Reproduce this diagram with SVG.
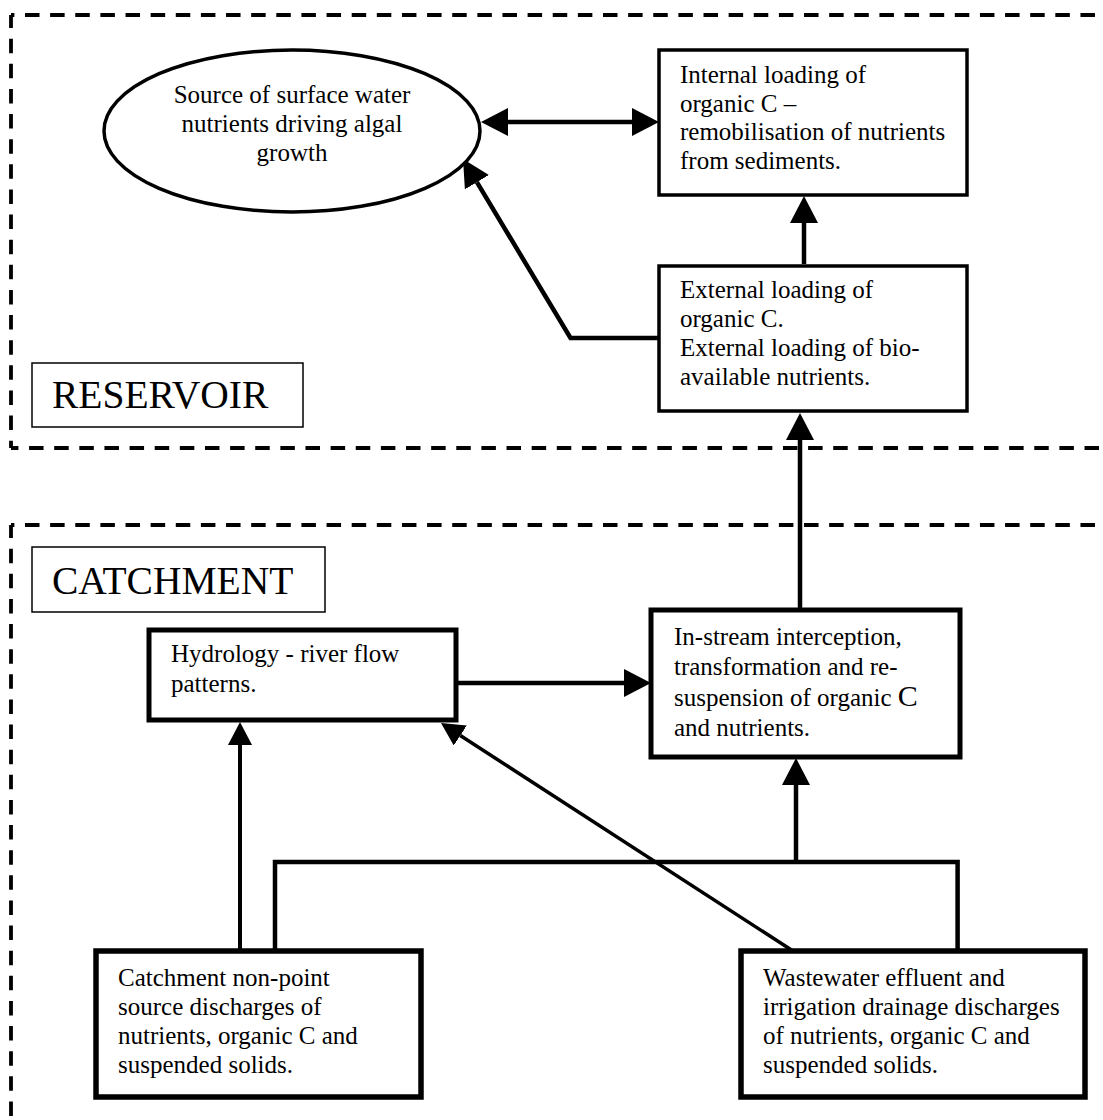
<svg xmlns="http://www.w3.org/2000/svg" width="1103" height="1120" viewBox="0 0 1103 1120">
  <style>
    text { font-family: "Liberation Serif", "Times New Roman", serif; fill: #000; }
    .t { font-size: 25px; }
    .big { font-size: 39.5px; }
    .zone { fill: none; stroke: #000; stroke-width: 3.8; stroke-dasharray: 14.5 10.63; }
    .box { fill: #fff; stroke: #000; }
    .label { fill: #fff; stroke: #000; stroke-width: 1.5; }
    .wire { fill: none; stroke: #000; stroke-linejoin: miter; }
  </style>
  <defs>
    <marker id="head" markerUnits="userSpaceOnUse" viewBox="0 0 27 28" markerWidth="27" markerHeight="28" refX="0" refY="14" orient="auto-start-reverse">
      <path d="M0,0 L27,14 L0,28 z" fill="#000"/>
    </marker>
    <marker id="headThin" markerUnits="userSpaceOnUse" viewBox="0 0 23 24" markerWidth="23" markerHeight="24" refX="0" refY="12" orient="auto">
      <path d="M0,0 L23,12 L0,24 z" fill="#000"/>
    </marker>
  </defs>

  <rect width="1103" height="1120" fill="#fff"/>

  <!-- dashed zone outlines (open to the right / bottom) -->
  <g id="zone-reservoir">
    <path class="zone" d="M11,15 H1120" stroke-dashoffset="11.13"/>
    <path class="zone" d="M11,15 V448" stroke-dashoffset="1.5"/>
    <path class="zone" d="M11,448 H1120" stroke-dashoffset="7.07"/>
  </g>
  <g id="zone-catchment">
    <path class="zone" d="M11,525 H1120" stroke-dashoffset="11.13"/>
    <path class="zone" d="M11,525 V1130" stroke-dashoffset="1.5"/>
  </g>

  <!-- connectors -->
  <g id="connectors">
    <path class="wire" stroke-width="4.5" d="M508,122 H632" marker-start="url(#head)" marker-end="url(#head)"/>
    <path class="wire" stroke-width="4.5" d="M804,264 V223" marker-end="url(#head)"/>
    <path class="wire" stroke-width="4.5" d="M659,338 H570.5 L476.9,182.2" marker-end="url(#head)"/>
    <path class="wire" stroke-width="4.5" d="M800,610 V440" marker-end="url(#head)"/>
    <path class="wire" stroke-width="4.5" d="M456,683 H624" marker-end="url(#head)"/>
    <path class="wire" stroke-width="4.5" d="M275,951 V862 H957.6 V951"/>
    <path class="wire" stroke-width="4.5" d="M796,862 V785" marker-end="url(#head)"/>
    <path class="wire" stroke-width="4" d="M240,951 V745" marker-end="url(#headThin)"/>
    <path class="wire" stroke-width="3.5" d="M793,951 L460.3,735.5" marker-end="url(#headThin)"/>
  </g>

  <!-- reservoir nodes -->
  <g id="node-source">
    <ellipse cx="292" cy="131" rx="188" ry="81" fill="#fff" stroke="#000" stroke-width="3.5"/>
    <text class="t" text-anchor="middle" x="292" y="103">Source of surface water</text>
    <text class="t" text-anchor="middle" x="292" y="132">nutrients driving algal</text>
    <text class="t" text-anchor="middle" x="292" y="161">growth</text>
  </g>
  <g id="node-internal">
    <rect class="box" x="659" y="50" width="308" height="145" stroke-width="3.5"/>
    <text class="t" x="680" y="83">Internal loading of</text>
    <text class="t" x="680" y="112">organic C –</text>
    <text class="t" x="680" y="140">remobilisation of nutrients</text>
    <text class="t" x="680" y="169">from sediments.</text>
  </g>
  <g id="node-external">
    <rect class="box" x="659" y="266" width="308" height="145" stroke-width="3.5"/>
    <text class="t" x="680" y="298">External loading of</text>
    <text class="t" x="680" y="327">organic C.</text>
    <text class="t" x="680" y="356">External loading of bio-</text>
    <text class="t" x="680" y="385">available nutrients.</text>
  </g>
  <g id="label-reservoir">
    <rect class="label" x="32" y="363" width="271" height="64"/>
    <text class="big" x="52" y="408">RESERVOIR</text>
  </g>

  <!-- catchment nodes -->
  <g id="label-catchment">
    <rect class="label" x="32" y="547" width="293" height="65"/>
    <text class="big" x="52" y="594">CATCHMENT</text>
  </g>
  <g id="node-hydrology">
    <rect class="box" x="149" y="630" width="307" height="90" stroke-width="5"/>
    <text class="t" x="171" y="662">Hydrology - river flow</text>
    <text class="t" x="171" y="692">patterns.</text>
  </g>
  <g id="node-instream">
    <rect class="box" x="651" y="610" width="309" height="147" stroke-width="5"/>
    <text class="t" x="674" y="645">In-stream interception,</text>
    <text class="t" x="674" y="675">transformation and re-</text>
    <text class="t" x="674" y="706">suspension of organic <tspan font-size="30">C</tspan></text>
    <text class="t" x="674" y="736">and nutrients.</text>
  </g>
  <g id="node-nonpoint">
    <rect class="box" x="96" y="951" width="325" height="146" stroke-width="5.5"/>
    <text class="t" x="118" y="986">Catchment non-point</text>
    <text class="t" x="118" y="1015">source discharges of</text>
    <text class="t" x="118" y="1044">nutrients, organic C and</text>
    <text class="t" x="118" y="1073">suspended solids.</text>
  </g>
  <g id="node-wastewater">
    <rect class="box" x="741" y="951" width="344" height="146" stroke-width="5.5"/>
    <text class="t" x="763" y="986">Wastewater effluent and</text>
    <text class="t" x="763" y="1015">irrigation drainage discharges</text>
    <text class="t" x="763" y="1044">of nutrients, organic C and</text>
    <text class="t" x="763" y="1073">suspended solids.</text>
  </g>
</svg>
